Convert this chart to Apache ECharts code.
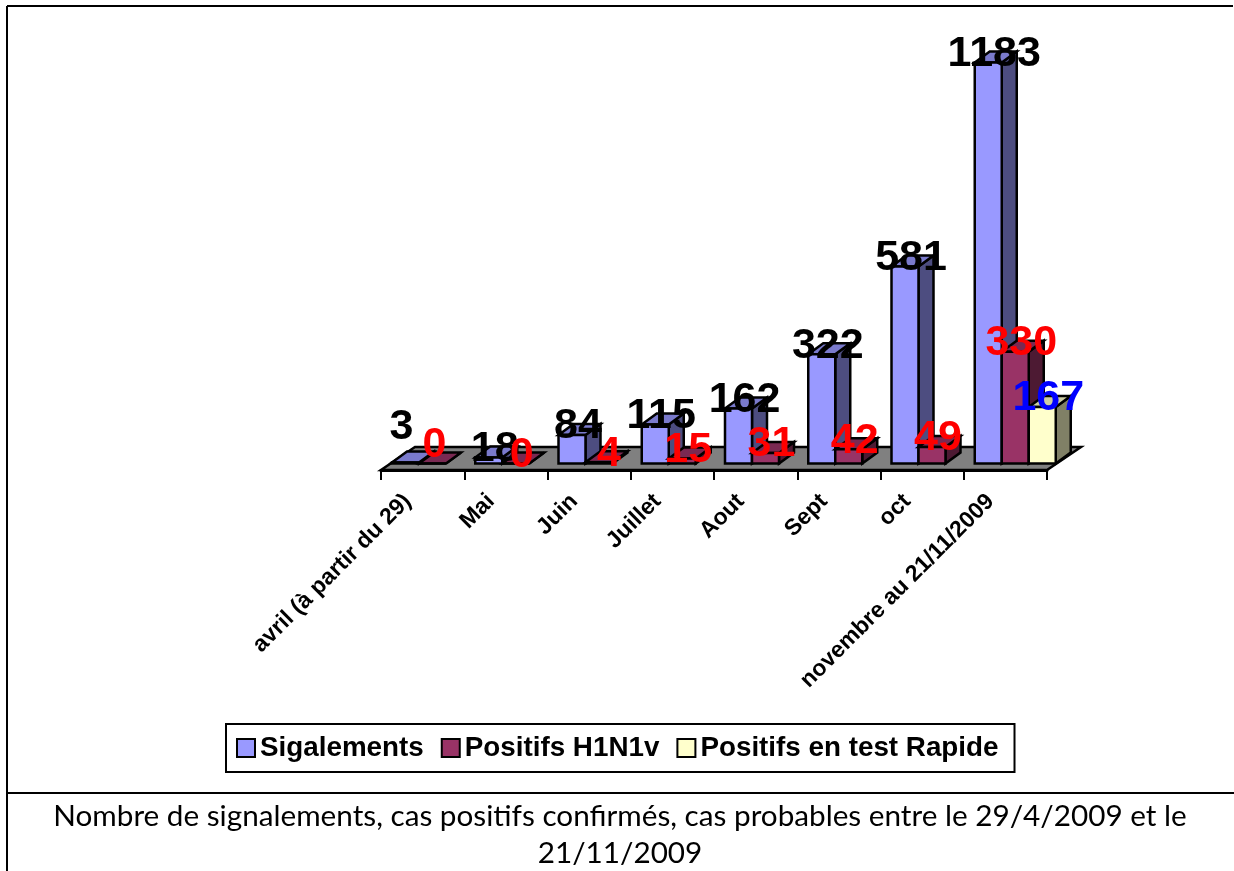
<!DOCTYPE html>
<html>

<head>
	<meta charset="UTF-8">
	<title></title>
	<style>
		html, body { margin: 0; padding: 0; background: #fff; }
		#chart { width: 1234px; height: 871px; }
	</style>
	<script src="https://cdn.jsdelivr.net/npm/echarts@6/dist/echarts.min.js"></script>
</head>

<body>
	<div id="chart"></div>
	<script>
		var myChart = echarts.init(document.getElementById('chart'));

		var months = ['avril (à partir du 29)', 'Mai', 'Juin', 'Juillet', 'Aout', 'Sept', 'oct', 'novembre au 21/11/2009'];
		var seriesNames = ['Sigalements', 'Positifs H1N1v', 'Positifs en test Rapide'];
		var sigalements = [3, 18, 84, 115, 162, 322, 581, 1183];
		var positifs = [0, 0, 4, 15, 31, 42, 49, 330];
		var testRapide = [null, null, null, null, null, null, null, 167];
		var values = [sigalements, positifs, testRapide];

		// front, top and side shades of each bar
		var fronts = ['#9999FF', '#993366', '#FFFFCC'];
		var tops = ['#7A7ACC', '#7A2952', '#CCCCA3'];
		var sides = ['#4D4D80', '#4D1A33', '#808066'];
		var labelColors = ['#000', '#FF0000', '#0000FF'];

		var barWidth = 27, depthX = 15, depthY = 11;
		var floorDrop = 6.5, floorX = 34, floorY = 23;
		// the first labels were moved by hand in the original
		var labelMoves = { '0-0': [-10, -27], '0-1': [-4, -10], '2-1': [4, 0] };

		function rows(list) {
			var result = [];
			list.forEach(function (v, i) {
				if (v !== null) result.push([i, v]);
			});
			return result;
		}

		function barLeft(api, cat, idx) {
			var band = api.size([1, 0])[0];
			return api.coord([cat, 0])[0] - band / 2 + 11 + idx * barWidth;
		}

		function barItem(idx) {
			return function (params, api) {
				var cat = api.value(0);
				var x0 = barLeft(api, cat, idx), x1 = x0 + barWidth;
				var y0 = api.coord([cat, 0])[1];
				var y1 = api.coord([cat, api.value(1)])[1];
				var line = { stroke: '#000', lineWidth: 2.5, lineJoin: 'miter' };
				function poly(points, fill) {
					return {
						type: 'polygon',
						shape: { points: points },
						style: Object.assign({ fill: fill }, line)
					};
				}
				return {
					type: 'group',
					children: [
						poly([[x1, y1], [x1, y0], [x1 + depthX, y0 - depthY], [x1 + depthX, y1 - depthY]], sides[idx]),
						poly([[x0, y1], [x1, y1], [x1 + depthX, y1 - depthY], [x0 + depthX, y1 - depthY]], tops[idx]),
						poly([[x0, y0], [x1, y0], [x1, y1], [x0, y1]], fronts[idx])
					]
				};
			};
		}

		function labelItem(idx) {
			return function (params, api) {
				var cat = api.value(0);
				var move = labelMoves[cat + '-' + idx] || [0, 0];
				var x = barLeft(api, cat, idx) + barWidth / 2 + depthX / 2 - 1.5;
				var y = api.coord([cat, api.value(1)])[1] - depthY / 2 - 3;
				return {
					type: 'text',
					style: {
						x: x + move[0],
						y: y + move[1],
						text: String(api.value(1)),
						fill: labelColors[idx],
						font: 'bold 43px "Liberation Sans"',
						textAlign: 'center',
						textVerticalAlign: 'middle'
					}
				};
			};
		}

		function floorItem(params, api) {
			var cs = params.coordSys;
			var y = cs.y + cs.height + floorDrop;
			return {
				type: 'polygon',
				shape: {
					points: [[cs.x, y], [cs.x + cs.width, y], [cs.x + cs.width + floorX, y - floorY], [cs.x + floorX, y - floorY]]
				},
				style: { fill: '#808080', stroke: '#000', lineWidth: 2.5 }
			};
		}

		var series = [{
			type: 'custom',
			name: 'floor',
			renderItem: floorItem,
			data: [[0, 0]],
			z: 1,
			silent: true
		}];
		values.forEach(function (list, idx) {
			series.push({
				type: 'custom',
				name: seriesNames[idx],
				renderItem: barItem(idx),
				data: rows(list),
				encode: { x: 0, y: 1 },
				itemStyle: { color: fronts[idx] },
				z: 2
			});
		});
		values.forEach(function (list, idx) {
			series.push({
				type: 'custom',
				name: 'labels' + idx,
				renderItem: labelItem(idx),
				data: rows(list),
				encode: { x: 0, y: 1 },
				z: 3,
				silent: true
			});
		});

		function frameLine(x1, y1, x2, y2) {
			return {
				type: 'line',
				shape: { x1: x1, y1: y1, x2: x2, y2: y2 },
				style: { stroke: '#000', lineWidth: 2 }
			};
		}

		var option = {
			animation: false,
			backgroundColor: '#fff',
			title: {
				text: 'Nombre de signalements, cas positifs confirmés, cas probables entre le 29/4/2009 et le\n21/11/2009',
				left: 615,
				top: 793,
				textAlign: 'center',
				textStyle: {
					fontFamily: 'Lato',
					fontWeight: 'normal',
					fontSize: 29.7,
					lineHeight: 37,
					color: '#000'
				}
			},
			legend: {
				data: seriesNames,
				left: 226,
				top: 724,
				icon: 'rect',
				itemWidth: 18,
				itemHeight: 18,
				itemGap: 17,
				padding: [10, 16, 10, 10],
				borderColor: '#000',
				borderWidth: 2,
				backgroundColor: '#fff',
				selectedMode: false,
				textStyle: {
					fontFamily: 'Liberation Sans',
					fontWeight: 'bold',
					fontSize: 27.8,
					color: '#000'
				},
				itemStyle: { borderColor: '#000', borderWidth: 2 }
			},
			grid: { left: 381, width: 666, top: 56.7, height: 406.8 },
			xAxis: {
				type: 'category',
				data: months,
				offset: 6.5,
				axisLine: { show: true, onZero: false, lineStyle: { color: '#000', width: 3 } },
				axisTick: { show: true, length: 10, lineStyle: { color: '#000', width: 2 } },
				axisLabel: {
					interval: 0,
					rotate: 45,
					margin: 13,
					padding: [0, 21, 0, 0],
					color: '#000',
					fontFamily: 'Liberation Sans',
					fontWeight: 'bold',
					fontSize: 23
				}
			},
			yAxis: { type: 'value', min: 0, max: 1200, show: false },
			graphic: [
				frameLine(7, 6, 1233, 6),
				frameLine(7, 6, 7, 871),
				frameLine(7, 793, 1234, 793)
			],
			series: series
		};

		myChart.setOption(option);
	</script>
</body>

</html>
